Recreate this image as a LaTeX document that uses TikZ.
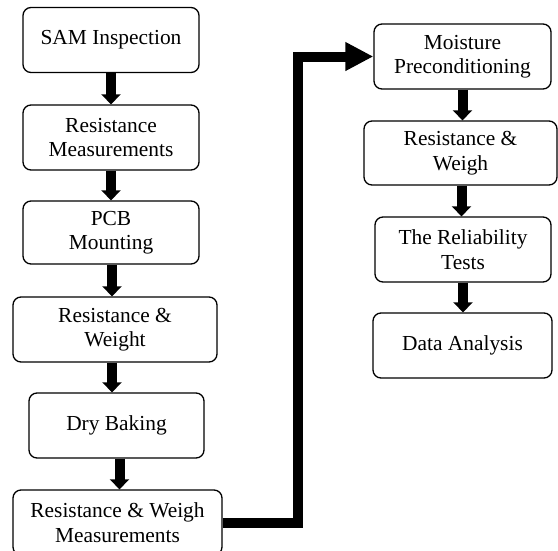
\documentclass[tikz,border=0pt]{standalone}
\usepackage{fontspec}
\setmainfont{Liberation Serif}
\usepackage{tikz}
\usetikzlibrary{arrows.meta}
\usetikzlibrary{positioning}

\begin{document}
\begin{tikzpicture}[x=1pt, y=-1pt,
stage/.style = {rectangle, rounded corners=8pt, draw=black, line width=1.3pt,
  minimum height=65pt, inner sep=0pt, align=center,
  font=\fontsize{21.4}{24.5}\selectfont},
flow/.style = {line width=10pt, -{Triangle[width=19pt,length=10pt]}},
bigflow/.style = {line width=10pt, -{Triangle[width=27pt,length=28pt]}}]
\useasboundingbox (0,0) rectangle (558,550);

% left column
\node[stage, minimum width=176pt] (A) at (111,40) {SAM Inspection};
\node[stage, minimum width=176pt] (B) at (111,137.5) {Resistance\\Measurements};
\node[stage, minimum width=176pt, minimum height=63pt] (C) at (111,232.5) {PCB\\Mounting};
\node[stage, minimum width=204pt] (D) at (115,329.5) {Resistance \&\\Weight};
\node[stage, minimum width=175pt] (E) at (116.5,425.5) {Dry Baking};
\node[stage, minimum width=209pt] (F) at (117.5,522.5) {Resistance \& Weigh\\Measurements};

% right column
\node[stage, minimum width=177pt] (G) at (462.5,56.5) {Moisture\\Preconditioning};
\node[stage, minimum width=193pt, minimum height=64pt] (H) at (460.5,153) {Resistance \&\\Weigh};
\node[stage, minimum width=176pt] (I) at (463,249.5) {The Reliability\\Tests};
\node[stage, minimum width=179pt] (J) at (462.5,345.5) {Data Analysis};

\coordinate (turn) at (298,0);

\draw[flow] (A.south) -- (A.south |- B.north);
\draw[flow] (B.south) -- (B.south |- C.north);
\draw[flow] ([xshift=1pt]C.south) -- ([xshift=1pt]C.south |- D.north);
\draw[flow] ([xshift=-3pt]D.south) -- ([xshift=-3pt]D.south |- E.north);
\draw[flow] ([xshift=3pt]E.south) -- ([xshift=3pt]E.south |- F.north);

\draw[bigflow] (F.east) -- (F.east -| turn) |- (G.west);

\draw[flow] (G.south) -- (G.south |- H.north);
\draw[flow] ([xshift=1pt]H.south) -- ([xshift=1pt]H.south |- I.north);
\draw[flow] (I.south) -- (I.south |- J.north);

\end{tikzpicture}
\end{document}
